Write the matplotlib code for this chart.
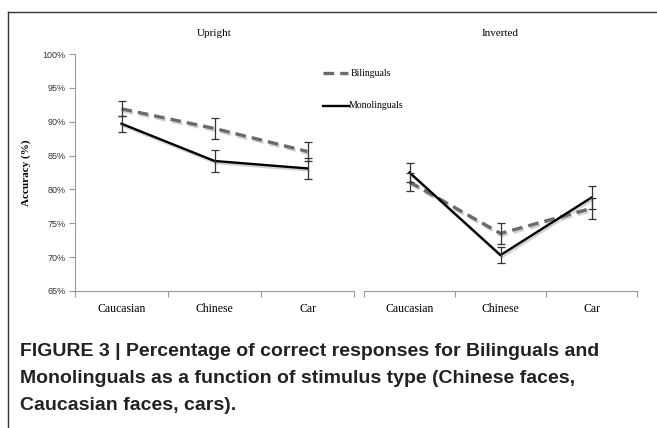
import matplotlib.pyplot as plt
import matplotlib.patheffects as pe
from matplotlib.lines import Line2D

# Stimulus categories
categories = ['Caucasian', 'Chinese', 'Car']

# Accuracy (%) and error bars
upright_bil = [91.9, 89.0, 85.6]
upright_bil_err = [1.1, 1.6, 1.45]
upright_mono = [89.7, 84.2, 83.1]
upright_mono_err = [1.2, 1.6, 1.6]

inverted_bil = [81.1, 73.5, 77.2]
inverted_bil_err = [1.3, 1.5, 1.6]
inverted_mono = [82.5, 70.3, 78.8]
inverted_mono_err = [1.35, 1.2, 1.7]

yticks = [65, 70, 75, 80, 85, 90, 95, 100]

serif = 'Liberation Serif'
W, H = 657, 428
fig = plt.figure(figsize=(W / 100, H / 100), dpi=100)

# outer frame (top + left edges)
fig.add_artist(Line2D([8 / W, 1], [1 - 12 / H, 1 - 12 / H], color='#333333', lw=1.0))
fig.add_artist(Line2D([8 / W, 8 / W], [0, 1 - 12 / H], color='#333333', lw=1.0))

bottom = (H - 291) / H
height = (291 - 54) / H
ax1 = fig.add_axes([75 / W, bottom, (354 - 75) / W, height])
ax2 = fig.add_axes([364 / W, bottom, (637 - 364) / W, height])

shadow = [pe.SimpleLineShadow(offset=(1, -1.5), shadow_color='gray', alpha=0.35), pe.Normal()]
xs = [0.5, 1.5, 2.5]


def draw(ax, bil, bil_err, mono, mono_err, title):
    ax.plot(xs, bil, color='#6b6b6b', lw=2.4, dashes=(3.2, 1.8), path_effects=shadow, zorder=3)
    ax.plot(xs, mono, color='black', lw=1.7, path_effects=shadow, zorder=4)
    ax.errorbar(xs, bil, yerr=bil_err, fmt='none', ecolor='#333333', elinewidth=0.9,
                capsize=3, capthick=0.9, zorder=5)
    ax.errorbar(xs, mono, yerr=mono_err, fmt='none', ecolor='#333333', elinewidth=0.9,
                capsize=3, capthick=0.9, zorder=5)
    ax.set_xlim(0, 3)
    ax.set_ylim(65, 100)
    ax.set_xticks([0, 1, 2, 3])
    ax.set_xticklabels([])
    ax.set_xticks(xs, minor=True)
    ax.set_xticklabels(categories, minor=True, family=serif, fontsize=8.5)
    ax.tick_params(axis='x', which='major', length=4, color='#999999', direction='out')
    ax.tick_params(axis='x', which='minor', length=0, pad=9)
    for s in ['top', 'right']:
        ax.spines[s].set_visible(False)
    ax.spines['bottom'].set_color('#999999')
    ax.spines['left'].set_color('#999999')
    ax.set_facecolor('none')
    ax.text(0.5, 1.0 + 21 / 237, title, transform=ax.transAxes, ha='center', va='center',
            family=serif, fontsize=8)


draw(ax1, upright_bil, upright_bil_err, upright_mono, upright_mono_err, 'Upright')
draw(ax2, inverted_bil, inverted_bil_err, inverted_mono, inverted_mono_err, 'Inverted')

ax1.set_yticks(yticks)
ax1.set_yticklabels([f'{v}%' for v in yticks], family='Liberation Sans', fontsize=6.5, color='#333333')
ax1.tick_params(axis='y', length=4, color='#999999', pad=3)
ax1.set_ylabel('Accuracy (%)', family=serif, fontweight='bold', fontsize=8, labelpad=8)

ax2.spines['left'].set_visible(False)
ax2.set_yticks([])

# legend drawn by hand, as in the original
fig.add_artist(Line2D([323 / W, 348 / W], [1 - 73 / H] * 2, color='#6b6b6b', lw=2.4, dashes=(3.2, 1.8)))
fig.add_artist(Line2D([323 / W, 349 / W], [1 - 105.5 / H] * 2, color='black', lw=1.7))
fig.text(351 / W, 1 - 73 / H, 'Bilinguals', family=serif, fontsize=7, va='center')
fig.text(349 / W, 1 - 105.5 / H, 'Monolinguals', family=serif, fontsize=7, va='center')

caption = ('FIGURE 3 | Percentage of correct responses for Bilinguals and\n'
           'Monolinguals as a function of stimulus type (Chinese faces,\n'
           'Caucasian faces, cars).')
fig.text(20 / W, 1 - 343 / H, caption, family='Liberation Sans', fontweight='bold',
         fontsize=14, va='top', ha='left', linespacing=1.76, color='#222222')

fig.savefig('out.png', dpi=100)
